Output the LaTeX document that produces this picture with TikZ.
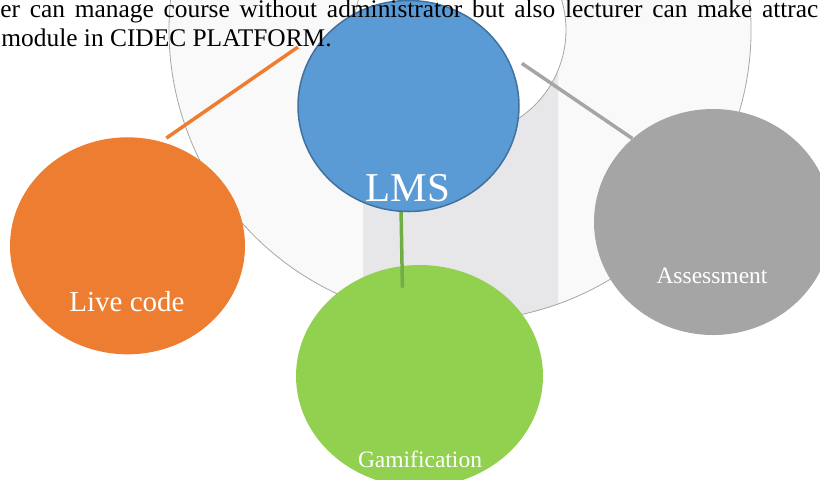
\documentclass[tikz,border=0pt]{standalone}
\usepackage{fontspec}
\setmainfont{Liberation Serif}
\usepackage{tikz}
\usetikzlibrary{shapes.geometric}

\definecolor{lmsblue}{HTML}{5B9BD5}
\definecolor{lmsedge}{HTML}{41719C}
\definecolor{liveorange}{HTML}{ED7D31}
\definecolor{assessgray}{HTML}{A5A5A5}
\definecolor{gamgreen}{HTML}{92D050}
\definecolor{gamline}{HTML}{70AD47}
\definecolor{ringfill}{HTML}{F9F9F9}
\definecolor{ringband}{HTML}{E7E7E9}
\definecolor{ringedge}{HTML}{A6A6A6}

\begin{document}
\begin{tikzpicture}[x=0.5pt,y=-0.5pt,
  ringshape/.style={insert path={(460,30) ++(-25:291) arc[start angle=-25,end angle=205,radius=291]
    -- ([shift={(460,30)}]205:106) arc[start angle=205,end angle=-25,radius=106] -- cycle}},
  bubble/.style={ellipse,inner sep=0pt},
  bubbletext/.style={anchor=base,text=white,inner sep=0pt},
  link/.style={line width=1.75pt},
  bodytext/.style={anchor=base west,inner sep=0pt,font=\fontsize{12.7pt}{15pt}\selectfont}]
\useasboundingbox (0,0) rectangle (820,479);

\path[fill=ringfill] [ringshape];
\begin{scope}
\clip (363,-60) rectangle (558,400);
\path[fill=ringband] [ringshape];
\end{scope}
\path[draw=ringedge,line width=0.4pt] [ringshape];

\node[bubble,fill=liveorange,minimum width=117.5pt,minimum height=108.5pt] (live) at (127.5,245.8) {};
\node[bubble,fill=assessgray,minimum width=119pt,minimum height=113pt] (assess) at (713,222) {};
\node[bubble,fill=gamgreen,minimum width=123.5pt,minimum height=111pt] (gam) at (419.5,376) {};
\node[bubble,fill=lmsblue,draw=lmsedge,line width=0.75pt,minimum width=110.5pt,minimum height=105.5pt] (lms) at (408.5,106) {};

\coordinate (livetip) at (298,47);
\draw[link,liveorange,shorten <=3pt] (live.72) -- (livetip);
\draw[link,assessgray,shorten <=11pt] (lms.30) -- (assess.134);
\draw[link,gamline,shorten >=-11pt] (lms.266.5) -- (gam.99);

\node[bubbletext,font=\fontsize{20.5pt}{24pt}\selectfont] (lmslabel) at (408,201.7) {LMS};
\node[bubbletext,font=\fontsize{14.5pt}{17pt}\selectfont] (livelabel) at (127,311) {Live code};
\node[bubbletext,font=\fontsize{11.75pt}{14pt}\selectfont] (assesslabel) at (712,283) {Assessment};
\node[bubbletext,font=\fontsize{11.75pt}{14pt}\selectfont] (gamlabel) at (420,467) {Gamification};

\node[bodytext] (lineone) at (0,17) {\makebox[409pt][s]{er can manage course without administrator but also lecturer can make attrac}};
\node[bodytext] (linetwo) at (1,46.5) {module in CIDEC PLATFORM.};
\end{tikzpicture}
\end{document}
